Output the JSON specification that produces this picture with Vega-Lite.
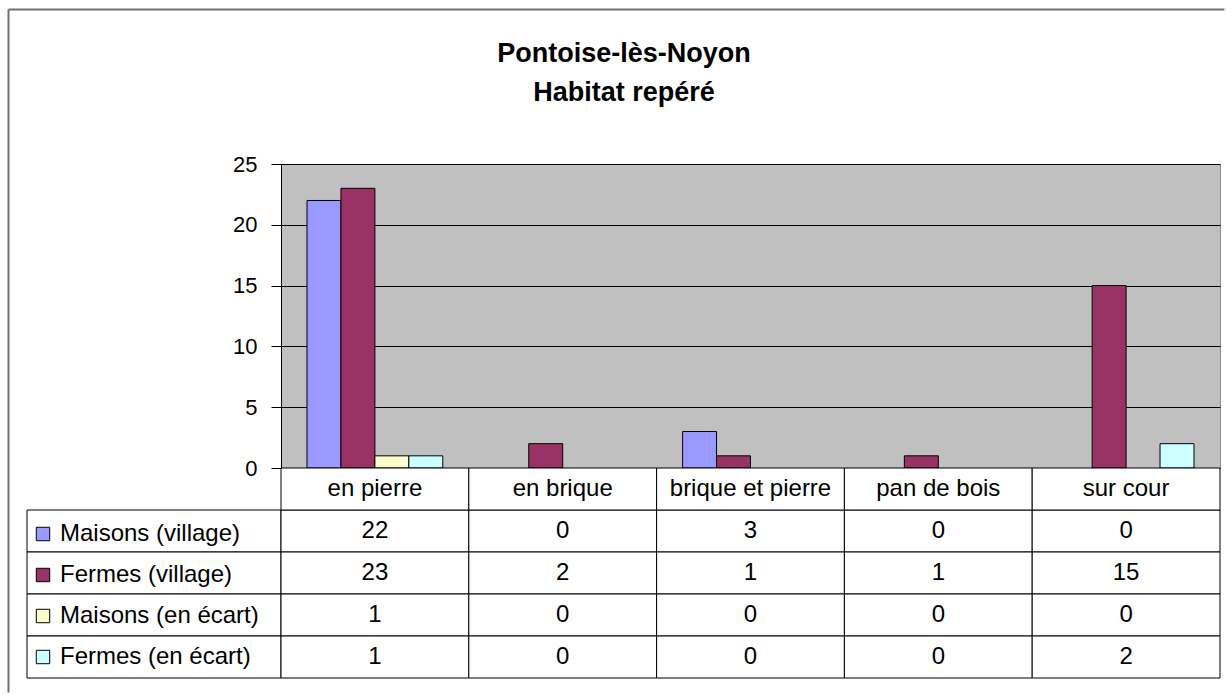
{
  "$schema": "https://vega.github.io/schema/vega-lite/v6.json",
  "background": "white",
  "padding": {"left": 8, "top": 9, "right": 0, "bottom": 0},
  "datasets": {
    "habitat": [
      {"cat": "en pierre", "series": "Maisons (village)", "n": 22},
      {"cat": "en pierre", "series": "Fermes (village)", "n": 23},
      {"cat": "en pierre", "series": "Maisons (en écart)", "n": 1},
      {"cat": "en pierre", "series": "Fermes (en écart)", "n": 1},
      {"cat": "en brique", "series": "Maisons (village)", "n": 0},
      {"cat": "en brique", "series": "Fermes (village)", "n": 2},
      {"cat": "en brique", "series": "Maisons (en écart)", "n": 0},
      {"cat": "en brique", "series": "Fermes (en écart)", "n": 0},
      {"cat": "brique et pierre", "series": "Maisons (village)", "n": 3},
      {"cat": "brique et pierre", "series": "Fermes (village)", "n": 1},
      {"cat": "brique et pierre", "series": "Maisons (en écart)", "n": 0},
      {"cat": "brique et pierre", "series": "Fermes (en écart)", "n": 0},
      {"cat": "pan de bois", "series": "Maisons (village)", "n": 0},
      {"cat": "pan de bois", "series": "Fermes (village)", "n": 1},
      {"cat": "pan de bois", "series": "Maisons (en écart)", "n": 0},
      {"cat": "pan de bois", "series": "Fermes (en écart)", "n": 0},
      {"cat": "sur cour", "series": "Maisons (village)", "n": 0},
      {"cat": "sur cour", "series": "Fermes (village)", "n": 15},
      {"cat": "sur cour", "series": "Maisons (en écart)", "n": 0},
      {"cat": "sur cour", "series": "Fermes (en écart)", "n": 2}
    ],
    "blank": [{}]
  },
  "title": {
    "text": ["Pontoise-lès-Noyon", "Habitat repéré"],
    "fontSize": 27,
    "font": "Liberation Sans",
    "fontWeight": "bold",
    "lineHeight": 39,
    "anchor": "start",
    "align": "center",
    "frame": "group",
    "dx": 597,
    "offset": -98,
    "color": "black"
  },
  "columns": 2,
  "spacing": 0,
  "bounds": "flush",
  "concat": [
    {
      "width": 254,
      "height": 304,
      "data": {"name": "blank"},
      "view": {"stroke": null},
      "mark": {"type": "point", "opacity": 0, "size": 1},
      "encoding": {
        "x": {
          "datum": 0.5,
          "type": "quantitative",
          "scale": {"domain": [0, 1], "range": [-19, 1197]},
          "axis": {"orient": "top", "offset": 155, "title": null, "labels": false, "ticks": false, "grid": false, "domainColor": "#707070", "domainWidth": 2}
        },
        "y": {
          "datum": 0.5,
          "type": "quantitative",
          "scale": {"domain": [0, 1], "range": [528, -155]},
          "axis": {"orient": "left", "offset": 19, "title": null, "labels": false, "ticks": false, "grid": false, "domainColor": "#707070", "domainWidth": 2}
        }
      }
    },
    {
      "width": 939,
      "height": 304,
      "data": {"name": "habitat"},
      "transform": [{"filter": "datum.n > 0"}],
      "view": {"fill": "#c0c0c0", "stroke": "#8c8c8c"},
      "mark": {"type": "bar", "stroke": "black", "strokeWidth": 1},
      "encoding": {
        "x": {
          "field": "cat",
          "type": "nominal",
          "scale": {
            "domain": ["en pierre", "en brique", "brique et pierre", "pan de bois", "sur cour"],
            "paddingInner": 0.277,
            "paddingOuter": 0.1385
          },
          "axis": {"title": null, "labels": false, "ticks": false, "domainColor": "black", "domainWidth": 1}
        },
        "xOffset": {
          "field": "series",
          "type": "nominal",
          "scale": {
            "domain": ["Maisons (village)", "Fermes (village)", "Maisons (en écart)", "Fermes (en écart)"],
            "paddingInner": 0,
            "paddingOuter": 0
          }
        },
        "y": {
          "field": "n",
          "type": "quantitative",
          "scale": {"domain": [0, 25]},
          "axis": {
            "title": null,
            "values": [0, 5, 10, 15, 20, 25],
            "gridColor": "black",
            "gridOpacity": 1,
            "domainColor": "black",
            "tickColor": "black",
            "tickSize": 10,
            "labelFontSize": 22,
            "labelPadding": 14,
            "labelColor": "black",
            "labelFont": "Liberation Sans"
          }
        },
        "color": {
          "field": "series",
          "type": "nominal",
          "scale": {
            "domain": ["Maisons (village)", "Fermes (village)", "Maisons (en écart)", "Fermes (en écart)"],
            "range": ["#9999ff", "#993366", "#ffffcc", "#ccffff"]
          },
          "legend": {
            "orient": "none",
            "legendX": 4,
            "legendY": 358,
            "title": null,
            "symbolType": "square",
            "symbolSize": 180,
            "symbolStrokeColor": "black",
            "symbolStrokeWidth": 1,
            "symbolOpacity": 1,
            "labelFontSize": 24,
            "labelFont": "Liberation Sans",
            "labelColor": "black",
            "labelOffset": 5,
            "labelLimit": 300,
            "rowPadding": 17,
            "padding": 0
          }
        }
      }
    },
    {
      "width": 254,
      "height": 210,
      "data": {"name": "habitat"},
      "transform": [{"filter": "datum.cat == 'en pierre'"}],
      "view": {"stroke": null},
      "mark": {"type": "rect", "fill": "white", "stroke": "black", "strokeWidth": 1},
      "encoding": {
        "y": {
          "field": "series",
          "type": "nominal",
          "scale": {
            "domain": ["header", "Maisons (village)", "Fermes (village)", "Maisons (en écart)", "Fermes (en écart)"],
            "paddingInner": 0,
            "paddingOuter": 0
          },
          "axis": null
        }
      }
    },
    {
      "width": 939,
      "height": 210,
      "data": {"name": "habitat"},
      "view": {"stroke": null},
      "encoding": {
        "x": {
          "field": "cat",
          "type": "nominal",
          "scale": {
            "domain": ["en pierre", "en brique", "brique et pierre", "pan de bois", "sur cour"],
            "paddingInner": 0,
            "paddingOuter": 0
          },
          "axis": null
        }
      },
      "layer": [
        {
          "mark": {"type": "rect", "fill": "white", "stroke": "black", "strokeWidth": 1},
          "encoding": {
            "y": {
              "field": "series",
              "type": "nominal",
              "scale": {
                "domain": ["header", "Maisons (village)", "Fermes (village)", "Maisons (en écart)", "Fermes (en écart)"],
                "paddingInner": 0,
                "paddingOuter": 0
              },
              "axis": null
            }
          }
        },
        {
          "mark": {"type": "text", "fontSize": 24, "font": "Liberation Sans", "color": "black"},
          "encoding": {
            "y": {"field": "series", "type": "nominal"},
            "text": {"field": "n", "type": "quantitative"}
          }
        },
        {
          "transform": [{"filter": "datum.series == 'Maisons (village)'"}],
          "mark": {"type": "rect", "fill": "white", "stroke": "black", "strokeWidth": 1},
          "encoding": {"y": {"datum": "header", "type": "nominal"}}
        },
        {
          "transform": [{"filter": "datum.series == 'Maisons (village)'"}],
          "mark": {"type": "text", "fontSize": 24, "font": "Liberation Sans", "color": "black"},
          "encoding": {
            "y": {"datum": "header", "type": "nominal"},
            "text": {"field": "cat", "type": "nominal"}
          }
        }
      ]
    }
  ],
  "config": {
    "font": "Liberation Sans"
  }
}
